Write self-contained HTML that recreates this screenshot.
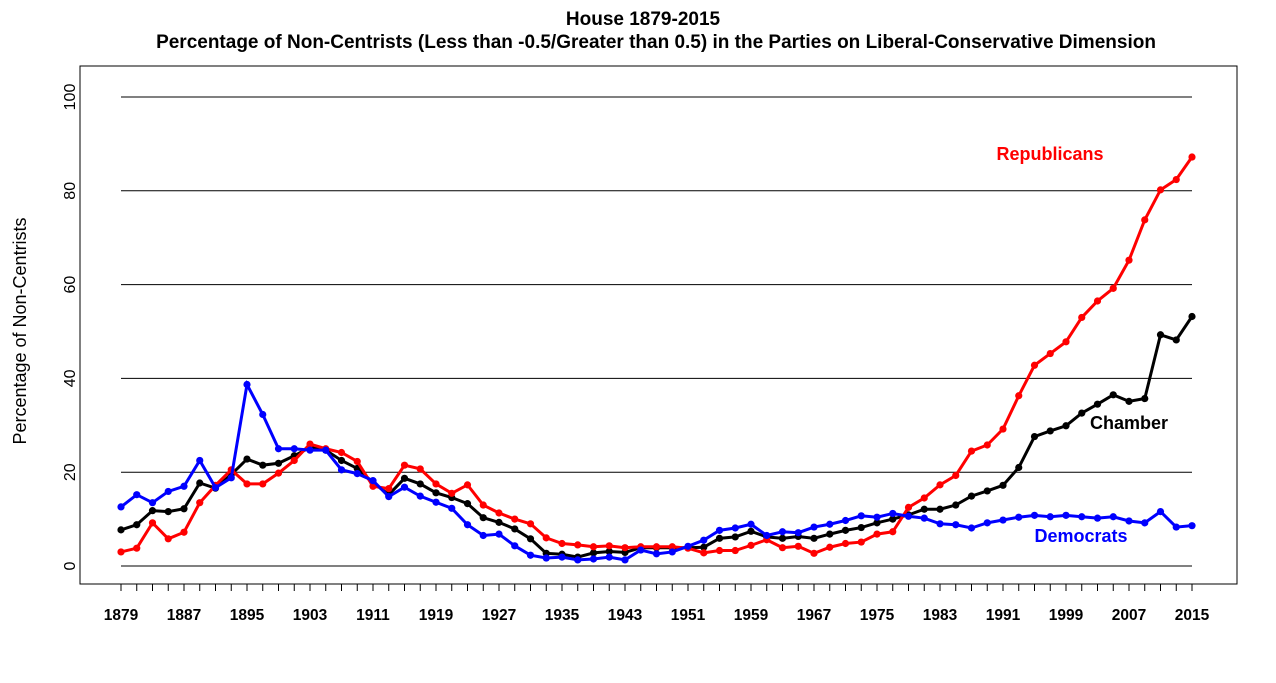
<!DOCTYPE html>
<html><head><meta charset="utf-8"><style>
body{margin:0;background:#fff;}
svg{display:block;font-family:"Liberation Sans",Arial,sans-serif;}
</style></head><body>
<svg id="chart" width="1276" height="683">
<text x="643" y="25" text-anchor="middle" font-size="19" font-weight="bold">House 1879-2015</text>
<text x="656" y="48" text-anchor="middle" font-size="19" font-weight="bold">Percentage of Non-Centrists (Less than -0.5/Greater than 0.5) in the Parties on Liberal-Conservative Dimension</text>
<rect x="80" y="66" width="1157" height="518" fill="none" stroke="#000" stroke-width="1"/>
<text transform="translate(26,331) rotate(-90)" text-anchor="middle" font-size="18">Percentage of Non-Centrists</text>
<g id="grid"></g><g id="axes"></g><g id="series"></g>
<text x="1050" y="160" text-anchor="middle" font-size="18" font-weight="bold" fill="#ff0000">Republicans</text>
<text x="1129" y="429" text-anchor="middle" font-size="18" font-weight="bold" fill="#000">Chamber</text>
<text x="1081" y="542" text-anchor="middle" font-size="18" font-weight="bold" fill="#0000ff">Democrats</text>
</svg>
<script>
const years=[];for(let y=1879;y<=2015;y+=2)years.push(y);
const xTickLabels=[1879,1887,1895,1903,1911,1919,1927,1935,1943,1951,1959,1967,1975,1983,1991,1999,2007,2015];
const yTicks=[0,20,40,60,80,100];
const republicans=[3,3.8,9.2,5.8,7.2,13.5,17.2,20.5,17.5,17.5,19.8,22.5,26,25,24.2,22.3,17,16.5,21.5,20.7,17.5,15.5,17.3,13,11.3,10,9,6,4.8,4.5,4.1,4.3,3.9,4.1,4.1,4.1,3.8,2.8,3.3,3.3,4.4,5.6,3.9,4.2,2.7,4,4.8,5.1,6.8,7.3,12.5,14.5,17.3,19.3,24.5,25.8,29.2,36.3,42.8,45.3,47.8,53,56.5,59.2,65.2,73.8,80.2,82.4,87.2];
const democrats=[12.6,15.2,13.5,15.9,17,22.5,16.7,18.8,38.7,32.3,25,25,24.7,24.7,20.5,19.7,18.2,14.8,16.8,14.9,13.6,12.3,8.8,6.5,6.8,4.3,2.3,1.7,1.9,1.3,1.5,1.9,1.3,3.4,2.6,3,4.2,5.5,7.6,8.1,8.9,6.5,7.3,7.1,8.3,8.9,9.7,10.7,10.4,11.2,10.6,10.2,9,8.8,8.1,9.2,9.8,10.4,10.8,10.5,10.8,10.5,10.2,10.5,9.6,9.2,11.6,8.3,8.6];
const chamber=[7.7,8.8,11.8,11.6,12.2,17.7,16.6,19.5,22.8,21.5,21.9,23.5,25.3,24.7,22.5,20.8,17.8,15.2,18.7,17.5,15.6,14.6,13.3,10.3,9.3,7.9,5.8,2.7,2.5,1.9,2.8,3.1,2.9,3.9,3.9,3.9,3.9,4,5.9,6.2,7.4,6.2,5.9,6.3,5.9,6.8,7.6,8.2,9.2,10,10.9,12.1,12.1,13,14.9,16,17.2,21,27.6,28.8,29.9,32.6,34.5,36.5,35.1,35.7,49.3,48.2,53.2];
const NS="http://www.w3.org/2000/svg";
const X=y=>121+(y-1879)*(1192-121)/136;
const Y=v=>566-v*(566-97)/100;
function mk(t,a,p){const e=document.createElementNS(NS,t);for(const k in a)e.setAttribute(k,a[k]);p.appendChild(e);return e;}
const grid=document.getElementById('grid'),axes=document.getElementById('axes'),series=document.getElementById('series');
yTicks.forEach(v=>{
 const l=mk('line',{x1:121,x2:1192,y1:Y(v),y2:Y(v),stroke:'#000','stroke-width':1},grid);
 
 
 const t=mk('text',{transform:`translate(75,${Y(v)}) rotate(-90)`,'text-anchor':'middle','font-size':16},axes);
 t.textContent=v;
 
 
});
years.forEach(y=>{
 const l=mk('line',{x1:X(y),x2:X(y),y1:584,y2:591,stroke:'#000'},axes);
 
 
});
xTickLabels.forEach(y=>{
 const t=mk('text',{x:X(y),y:620,'text-anchor':'middle','font-size':15.5,'font-weight':'bold'},axes);
 t.textContent=y;
 
 
});
function draw(vals,color,name){
 const g=mk('g',{},series);
 
 
 const p=mk('polyline',{points:vals.map((v,i)=>X(years[i])+','+Y(v)).join(' '),fill:'none',stroke:color,'stroke-width':3},g);
 
 
 vals.forEach((v,i)=>{
  const c=mk('circle',{cx:X(years[i]),cy:Y(v),r:3.6,fill:color},g);
  
  
 });
}
draw(chamber,'#000000','chamber');
draw(republicans,'#ff0000','republicans');
draw(democrats,'#0000ff','democrats');
</script>
</body></html>
